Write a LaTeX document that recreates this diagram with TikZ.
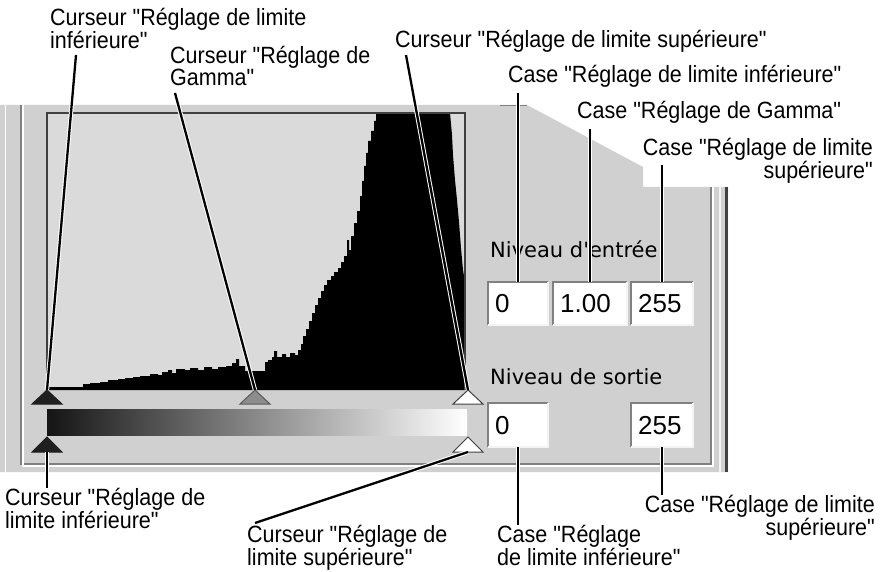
\documentclass[tikz,border=0pt]{standalone}
\usepackage{fontspec}
\setmainfont{Liberation Sans}[FakeStretch=0.915, Ligatures=TeXOff]
\newfontfamily\uifont{DejaVu Sans}
\newfontfamily\digitfont{Liberation Sans}
\usetikzlibrary{positioning}
\definecolor{panelgray}{RGB}{208,208,208}
\definecolor{histgray}{RGB}{218,218,218}
\definecolor{framedark}{RGB}{64,64,64}
\definecolor{framemid}{RGB}{128,128,128}
\definecolor{framelight}{RGB}{244,244,244}
\definecolor{cursorgray}{RGB}{140,140,140}

\tikzset{
  callout/.style={inner sep=0pt, font=\fontsize{23.5}{22}\selectfont},
  leader/.style={line width=2.3pt, preaction={draw=white, line width=4.3pt}},
  uitext/.style={inner sep=0pt, font=\uifont\fontsize{21}{21}\selectfont},
  field/.style={fill=white, inner sep=0pt, inner xsep=7pt, minimum height=43pt, align=left, anchor=north west, font=\digitfont\fontsize{26}{26}\selectfont},
  cursorblack/.style={fill=black!88, draw=black!88, line width=1pt},
  cursormid/.style={fill=cursorgray, draw=black!65, line width=1pt},
  cursorwhite/.style={fill=white, draw=framedark, line width=1pt}
}

\begin{document}
\begin{tikzpicture}[x=1pt, y=-1pt]
  \useasboundingbox (0,0) rectangle (880,572);
  \fill[white] (0,0) rectangle (880,572);

  % dialog panel
  \fill[panelgray] (0,105) -- (527,105) -- (643,167) -- (643,187) -- (728,187) -- (728,472) -- (0,472) -- cycle;
  \draw[framemid, line width=1pt] (500,105.5) -- (527,105.5);
  \draw[white, line width=1pt] (5,105) -- (5,472);
  \draw[framemid, line width=1.2pt] (21,105) |- (711,464) -- (711,187);
  \draw[white, line width=1.2pt] (23,105) |- (713,466) -- (713,187);
  \draw[framelight, line width=1.5pt] (720,187) -- (720,472);
  \draw[framedark, line width=3pt] (726.5,187) -- (726.5,472);

  % histogram
  \fill[histgray] (47,113) rectangle (465,390);
  \fill[black] (47,390) -- plot[const plot] coordinates {(47,387) (83,384) (90,383) (100,382) (108,380) (118,379) (125,378) (133,377) (140,376) (150,374) (158,375) (162,372) (168,370) (172,373) (176,369) (185,370) (190,368) (198,370) (204,367) (212,369) (218,367) (226,366) (232,363) (236,359) (239,366) (245,371) (265,362) (268,360) (272,357) (274,351) (277,357) (282,354) (286,357) (290,353) (295,355) (298,350) (301,344) (303,336) (306,329) (309,321) (312,313) (315,305) (318,298) (321,291) (324,285) (327,280) (331,276) (334,272) (338,268) (341,262) (344,256) (347,240) (349,250) (351,236) (354,223) (357,211) (360,196) (362,181) (364,166) (366,153) (368,141) (371,131) (374,121) (376,113) (450,113)}
    -- (452,135) -- (453,155) -- (455,180) -- (457,200) -- (459,222) -- (461,248) -- (463,270) -- (465,282) -- (465,390) -- cycle;
  \draw[framedark, line width=1.8pt] (47,390) |- (465,113) -- (465,390);

  % gradient bar
  \shade[left color=black!92, right color=white] (47,409) rectangle (467,435);

  % cursors
  \coordinate (lowin) at (47,390);
  \coordinate (gammain) at (255,390);
  \coordinate (highin) at (468,390);
  \coordinate (lowout) at (47,437);
  \coordinate (highout) at (468,437);
  \draw[cursorblack] (lowin) -- ++(-15,14) -- ++(30,0) -- cycle;
  \draw[cursormid] (gammain) -- ++(-15,14) -- ++(30,0) -- cycle;
  \draw[cursorwhite] (highin) -- ++(-15,14) -- ++(30,0) -- cycle;
  \draw[cursorblack] (lowout) -- ++(-15,15) -- ++(30,0) -- cycle;
  \draw[cursorwhite] (highout) -- ++(-15,15) -- ++(30,0) -- cycle;

  % level fields
  \node[uitext, anchor=base west] (inlabel) at (490,257) {Niveau d'entrée};
  \node[uitext, anchor=base west] (outlabel) at (490,384) {Niveau de sortie};
  \node[field, text width=46pt] (inlow) at (488,282) {0};
  \node[field, text width=60pt] (ingamma) at (553,282) {1.00};
  \node[field, text width=48pt] (inhigh) at (631,282) {255};
  \node[field, text width=46pt, minimum height=44pt] (outlow) at (488,403) {0};
  \node[field, text width=48pt, minimum height=44pt] (outhigh) at (631,403) {255};
  \foreach \b in {inlow,ingamma,inhigh,outlow,outhigh} {
    \draw[framemid, line width=2pt] (\b.south west) |- (\b.north east);
    \draw[framelight, line width=2pt] (\b.south west) -| (\b.north east);
  }

  % callouts
  \node[callout, align=left, anchor=north west] (lowtop) at (50,8) {Curseur "Réglage de limite\\inférieure"};
  \node[callout, align=left, anchor=north west] (gammatop) at (170,46) {Curseur "Réglage de\\Gamma"};
  \node[callout, anchor=north west] (hightop) at (395,30) {Curseur "Réglage de limite supérieure"};
  \node[callout, anchor=north west] (lowcase) at (508,65) {Case "Réglage de limite inférieure"};
  \node[callout, anchor=north west] (gammacase) at (577,101) {Case "Réglage de Gamma"};
  \node[callout, align=right, anchor=north east] (highcase) at (873,138) {Case "Réglage de limite\\supérieure"};
  \node[callout, align=left, anchor=north west] (lowbot) at (5,488) {Curseur "Réglage de\\limite inférieure"};
  \node[callout, align=left, anchor=north west] (highbot) at (247,525) {Curseur "Réglage de\\limite supérieure"};
  \node[callout, align=left, anchor=north west] (lowcasebot) at (497,525) {Case "Réglage\\de limite inférieure"};
  \node[callout, align=right, anchor=north east] (highcasebot) at (875,495) {Case "Réglage de limite\\supérieure"};

  % leader lines
  \coordinate (lowtail) at (76,55);
  \coordinate (gammatail) at (175,93);
  \coordinate (hightail) at (406,55);
  \coordinate (highcasetail) at (661,165);
  \coordinate (highbottail) at (255,523);
  \draw[leader] (lowtail) -- (lowin);
  \draw[leader] (gammatail) -- (gammain);
  \draw[leader] (hightail) -- (highin);
  \draw[leader] (inlow.north) -- ([yshift=-5pt]inlow.north |- lowcase.south);
  \draw[leader] (ingamma.north) -- ([yshift=-5pt]ingamma.north |- gammacase.south);
  \draw[leader] (inhigh.north) -- (inhigh.north |- highcasetail);
  \draw[leader] ([yshift=-15pt]lowout) -- (lowout |- lowbot.north);
  \draw[leader] (highbottail) -- ([yshift=-15pt]highout);
  \draw[leader] (outlow.south) -- (outlow.south |- lowcasebot.north);
  \draw[leader] (outhigh.south) -- (outhigh.south |- highcasebot.north);
\end{tikzpicture}
\end{document}
